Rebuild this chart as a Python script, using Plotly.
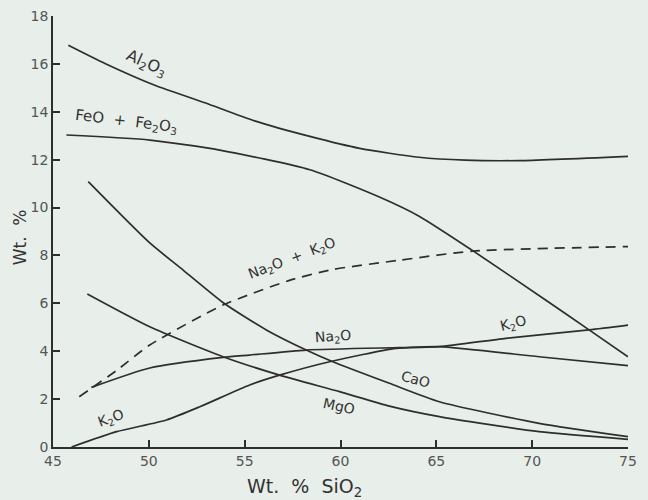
import plotly.graph_objects as go

# --- data (x = wt.% SiO2, y = wt.%) ---
al2o3_x = [45.8, 47.71, 50.31, 52.92, 55.52, 58.4, 61.0, 64.1, 66.5, 69.3, 75.0]
al2o3_y = [16.78, 16.02, 15.11, 14.38, 13.62, 12.97, 12.47, 12.1, 11.98, 11.96, 12.14]

feo_x = [45.7, 50.05, 53.7, 58.4, 62.0, 64.1, 66.9, 70.7, 72.97, 75.0]
feo_y = [13.03, 12.82, 12.4, 11.58, 10.45, 9.64, 8.2, 6.14, 4.89, 3.77]

cao_x = [46.84, 50.05, 51.79, 53.96, 56.13, 58.21, 59.6, 62.55, 65.16, 70.36, 75.0]
cao_y = [11.08, 8.52, 7.39, 5.98, 4.89, 4.05, 3.56, 2.66, 1.89, 0.99, 0.43]

mgo_x = [46.79, 50.05, 53.87, 56.82, 59.95, 62.55, 65.16, 70.36, 75.0]
mgo_y = [6.39, 5.02, 3.77, 3.0, 2.31, 1.71, 1.27, 0.64, 0.32]

na2o_x = [47.0, 50.05, 53.87, 55.26, 58.21, 63.07, 65.16, 70.36, 75.0]
na2o_y = [2.49, 3.3, 3.74, 3.84, 4.05, 4.15, 4.19, 3.77, 3.4]

k2o_x = [45.97, 48.32, 50.92, 52.66, 55.26, 56.82, 59.43, 62.9, 65.16, 68.63, 72.97, 75.0]
k2o_y = [0.0, 0.64, 1.13, 1.68, 2.59, 3.0, 3.56, 4.12, 4.19, 4.54, 4.89, 5.09]

alk_x = [46.37, 48.32, 50.05, 53.87, 57.3, 59.5, 63.07, 66.9, 75.0]
alk_y = [2.1, 3.2, 4.26, 5.93, 6.95, 7.4, 7.8, 8.18, 8.37]

x_ticks = [45, 50, 55, 60, 65, 70, 75]
y_ticks = [0, 2, 4, 6, 8, 10, 12, 14, 16, 18]

x_title = "Wt.  %  SiO<sub>2</sub>"
y_title = "Wt.  %"

# curve labels: (text, x, y, angle, size)
labels = [
    ("Al<sub>2</sub>O<sub>3</sub>", 49.85, 16.0, 24, 16),
    ("FeO  +  Fe<sub>2</sub>O<sub>3</sub>", 48.85, 13.6, 7, 15),
    ("Na<sub>2</sub>O  +  K<sub>2</sub>O", 57.45, 7.85, -21, 14),
    ("Na<sub>2</sub>O", 59.6, 4.6, -4, 14),
    ("K<sub>2</sub>O", 69.0, 5.15, -14, 14),
    ("CaO", 63.9, 2.85, 15, 14),
    ("MgO", 59.9, 1.7, 12, 14),
    ("K<sub>2</sub>O", 48.0, 1.15, -20, 14),
]

LINE = "#2e2e2e"
FONT = "DejaVu Sans"
BG = "#e8eee9"

fig = go.Figure()
series = [
    (al2o3_x, al2o3_y, "solid"),
    (feo_x, feo_y, "solid"),
    (cao_x, cao_y, "solid"),
    (mgo_x, mgo_y, "solid"),
    (na2o_x, na2o_y, "solid"),
    (k2o_x, k2o_y, "solid"),
    (alk_x, alk_y, "10px,7px"),
]
for xs, ys, dash in series:
    fig.add_trace(go.Scatter(
        x=xs, y=ys, mode="lines",
        line=dict(color=LINE, width=1.7, dash=dash, shape="spline", smoothing=0.6),
        hoverinfo="skip", showlegend=False,
    ))

for text, x, y, ang, sz in labels:
    fig.add_annotation(x=x, y=y, text=text, showarrow=False, textangle=ang,
                       font=dict(family=FONT, size=sz, color="#333333"))

# axis titles placed as paper annotations (as in the original, slightly off-centre)
fig.add_annotation(xref="paper", yref="paper", x=0.438, y=-0.095, text=x_title,
                   showarrow=False, xanchor="center", yanchor="middle",
                   font=dict(family=FONT, size=19, color="#333333"))
fig.add_annotation(xref="paper", yref="paper", x=-0.057, y=0.487, text=y_title,
                   showarrow=False, textangle=-90, xanchor="center", yanchor="middle",
                   font=dict(family=FONT, size=17, color="#333333"))

fig.update_layout(
    width=648, height=500,
    margin=dict(l=53, r=20, t=16, b=53, autoexpand=False),
    paper_bgcolor=BG, plot_bgcolor=BG,
    font=dict(family=FONT, color="#444444"),
    xaxis=dict(
        range=[45, 75], tickvals=x_ticks, ticktext=[str(v) for v in x_ticks],
        automargin=False,
        showgrid=False, zeroline=False, showline=True, linecolor=LINE, linewidth=1.5,
        ticks="inside", ticklen=7, tickcolor=LINE, tickwidth=1.5,
        tickfont=dict(family=FONT, size=14, color="#555555"),
    ),
    yaxis=dict(
        range=[0, 18], tickvals=y_ticks, ticktext=[str(v) for v in y_ticks],
        automargin=False,
        showgrid=False, zeroline=False, showline=True, linecolor=LINE, linewidth=1.5,
        ticks="inside", ticklen=7, tickcolor=LINE, tickwidth=1.5,
        tickfont=dict(family=FONT, size=14, color="#555555"),
    ),
)

fig.write_html("out.html", config={"displayModeBar": False},
               post_script="document.body.style.margin='0';document.body.style.background='" + BG + "';")
